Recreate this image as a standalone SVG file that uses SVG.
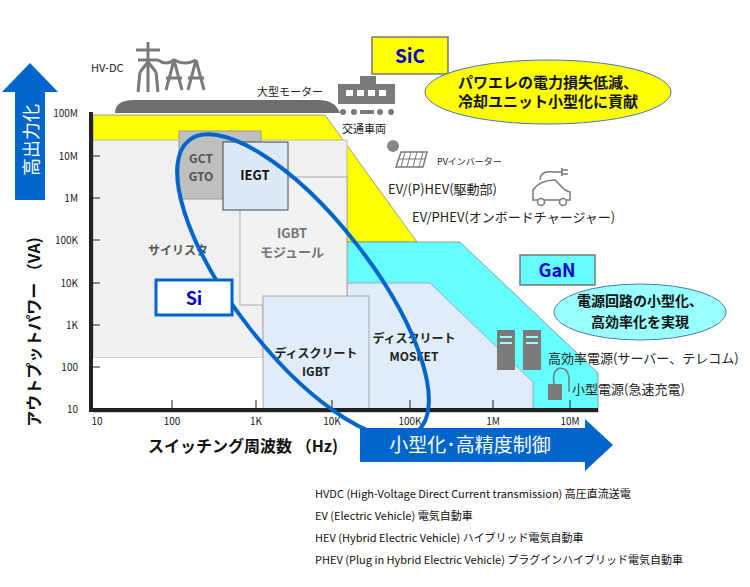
<svg xmlns="http://www.w3.org/2000/svg" width="750" height="587" viewBox="0 0 750 587">
<style>
text{font-family:"Noto Sans CJK JP","Noto Sans",sans-serif;}
.t{font-size:11px;fill:#222}
.tk{font-size:10px;fill:#222;text-anchor:end}
.tx{font-size:10px;fill:#222;text-anchor:middle}
.lg{font-size:11px;fill:#111}
.ic{fill:#7a7a7a}
.b{font-weight:bold}
</style>
<rect width="750" height="587" fill="#fff"/>
<g id="regions">
<path d="M115,113 Q115,100 135,100 L318,100 Q335,100 340,113 Z" fill="#6e6e6e"/>
<path d="M93,115 L325,115 L417,242 L93,242 Z" fill="#ffff00" stroke="#888" stroke-width="0.8"/>
<path d="M345,242 L460,242 L598,373 L598,412 L93,412 L93,242 Z" fill="#66ffff" stroke="#888" stroke-width="0.8"/>
<path d="M263,283 L430,283 L533,382 L533,410 L263,410 Z" fill="#e0ecf7" stroke="#999" stroke-width="0.8"/>
<path d="M93,140 L347,140 L347,305 L263,305 L263,358 L93,358 Z" fill="#f0f0f0" stroke="#aaa" stroke-width="0.8"/>
<rect x="93" y="358" width="170" height="50" fill="#fff"/>
<rect x="240" y="177" width="107" height="128" fill="#f2f2f2" stroke="#999" stroke-width="0.8"/>
<rect x="263" y="296" width="106" height="113" fill="#e0ecf7" stroke="#999" stroke-width="0.8"/>
</g>
<g id="gct"><rect x="179" y="131" width="82" height="68" fill="#bfbfbf" stroke="#999"/>
<text x="201" y="163" class="b" font-size="12" fill="#555" text-anchor="middle">GCT</text>
<text x="201" y="181" class="b" font-size="12" fill="#555" text-anchor="middle">GTO</text></g>
<g id="iegt"><rect x="223" y="142" width="65" height="68" fill="#dde9f5" stroke="#444"/>
<text x="255" y="180" class="b" font-size="13" fill="#111" text-anchor="middle">IEGT</text></g>
<g id="labels-in">
<text x="178" y="255" class="b" font-size="12" fill="#555" text-anchor="middle">サイリスタ</text>
<text x="292" y="238" class="b" font-size="13" fill="#777" text-anchor="middle">IGBT</text>
<text x="292" y="257" class="b" font-size="13" fill="#777" text-anchor="middle">モジュール</text>
<text x="316" y="358" class="b" font-size="12" fill="#222" text-anchor="middle">ディスクリート</text>
<text x="316" y="376" class="b" font-size="12" fill="#222" text-anchor="middle">IGBT</text>
<text x="414" y="343" class="b" font-size="12" fill="#222" text-anchor="middle">ディスクリート</text>
<text x="414" y="361" class="b" font-size="12" fill="#222" text-anchor="middle">MOSFET</text>
</g>
<g id="axes">
<line x1="91" y1="112" x2="91" y2="411" stroke="#222" stroke-width="4"/>
<line x1="89" y1="410" x2="598" y2="410" stroke="#222" stroke-width="4"/>
<g stroke="#222" stroke-width="1">
<line x1="91" y1="156" x2="100" y2="156"/><line x1="91" y1="198" x2="100" y2="198"/><line x1="91" y1="240" x2="100" y2="240"/><line x1="91" y1="283" x2="100" y2="283"/><line x1="91" y1="325" x2="100" y2="325"/><line x1="91" y1="367" x2="100" y2="367"/>
<line x1="172" y1="400" x2="172" y2="410"/><line x1="256" y1="400" x2="256" y2="410"/><line x1="332" y1="400" x2="332" y2="410"/><line x1="410" y1="400" x2="410" y2="410"/><line x1="493" y1="400" x2="493" y2="410"/><line x1="570" y1="400" x2="570" y2="410"/>
</g>
<text x="78" y="117" class="tk">100M</text><text x="78" y="160" class="tk">10M</text><text x="78" y="202" class="tk">1M</text><text x="78" y="244" class="tk">100K</text><text x="78" y="287" class="tk">10K</text><text x="78" y="329" class="tk">1K</text><text x="78" y="371" class="tk">100</text><text x="78" y="413" class="tk">10</text>
<text x="97" y="425" class="tx">10</text><text x="172" y="425" class="tx">100</text><text x="256" y="425" class="tx">1K</text><text x="332" y="425" class="tx">10K</text><text x="410" y="425" class="tx">100K</text><text x="493" y="425" class="tx">1M</text><text x="570" y="425" class="tx">10M</text>
<text transform="translate(40,332) rotate(-90)" font-size="16" class="b" fill="#111" text-anchor="middle">アウトプットパワー （VA)</text>
<text x="243" y="452" font-size="16" class="b" fill="#111" text-anchor="middle">スイッチング周波数 （Hz)</text>
</g>
<g id="si-ellipse"><ellipse cx="303" cy="286" rx="185" ry="68" transform="rotate(52 303 286)" fill="none" stroke="#0066cc" stroke-width="4"/></g>
<g id="arrows">
<path d="M15,200 L15,92 L2,92 L30,63 L58,92 L45,92 L45,200 Z" fill="#0066cc"/>
<text transform="translate(38,140) rotate(-90)" font-size="18" fill="#fff" text-anchor="middle">高出力化</text>
<path d="M360,428 L585,428 L585,419 L613,445 L585,471 L585,462 L360,462 Z" fill="#0066cc"/>
<text x="470" y="452" font-size="19" fill="#fff" text-anchor="middle">小型化･高精度制御</text>
</g>
<g id="si"><rect x="156" y="280" width="76" height="35" fill="#fff" stroke="#0066cc" stroke-width="3"/>
<text x="194" y="305" font-size="18" class="b" fill="#0000cc" text-anchor="middle">Si</text></g>
<g id="sic"><rect x="372" y="37" width="76" height="37" fill="#ffff00" stroke="#777" stroke-width="1.5"/>
<text x="410" y="63" font-size="19" class="b" fill="#0000cc" text-anchor="middle">SiC</text></g>
<g id="gan"><rect x="520" y="255" width="75" height="30" fill="#66ffff" stroke="#777" stroke-width="1.5"/>
<text x="557" y="277" font-size="18" class="b" fill="#0000cc" text-anchor="middle">GaN</text></g>
<g id="sic-note"><ellipse cx="548" cy="92" rx="123" ry="32" fill="#ffff00" stroke="#4a7ab0"/>
<text x="548" y="88" font-size="15" class="b" fill="#111" text-anchor="middle">パワエレの電力損失低減、</text>
<text x="548" y="107" font-size="15" class="b" fill="#111" text-anchor="middle">冷却ユニット小型化に貢献</text></g>
<g id="gan-note"><ellipse cx="640" cy="312" rx="86" ry="28" fill="#99ffff" stroke="#4a7ab0"/>
<text x="640" y="306" font-size="14" class="b" fill="#111" text-anchor="middle">電源回路の小型化、</text>
<text x="640" y="327" font-size="14" class="b" fill="#111" text-anchor="middle">高効率化を実現</text></g>
<g id="icons" class="ic">
<g stroke="#7a7a7a" stroke-width="3" fill="none">
<path d="M148,42 L148,92 M136,50 L160,50 M138,60 L158,60 M140,72 L138,92 M156,72 L158,92 M148,62 L140,72 M148,62 L156,72"/>
<path d="M174,60 L166,90 M174,60 L182,90 M166,78 L182,78 M196,60 L188,90 M196,60 L204,90 M188,78 L204,78 M158,60 Q166,66 174,60 Q185,66 196,60"/>
</g>
<path d="M338,84 L395,84 L395,104 L338,104 Z"/>
<rect x="360" y="76" width="16" height="8"/>
<g fill="#fff"><rect x="346" y="90" width="7" height="6"/><rect x="357" y="90" width="7" height="6"/><rect x="368" y="90" width="7" height="6"/><rect x="379" y="90" width="7" height="6"/></g>
<circle cx="343" cy="112" r="3"/><circle cx="354" cy="112" r="3"/><rect x="360" y="110" width="14" height="4"/><circle cx="380" cy="112" r="3"/><circle cx="391" cy="112" r="3"/>
<circle cx="393" cy="146" r="6" fill="#888"/>
<path d="M401,152 L427,152 L423,167 L396,167 Z" fill="#fff" stroke="#7a7a7a" stroke-width="1.5"/>
<path d="M405,152 L401,167 M411,152 L407,167 M417,152 L413,167 M423,152 L419,167 M399,159 L425,159" stroke="#7a7a7a" stroke-width="1" fill="none"/>
<g fill="none" stroke="#7a7a7a" stroke-width="1.5">
<path d="M533,200 L533,190 Q540,180 555,180 L565,190 L570,192 L570,200 Z"/>
<circle cx="541" cy="202" r="3.5" fill="#fff"/><circle cx="563" cy="202" r="3.5" fill="#fff"/>
<path d="M540,180 Q540,170 555,172 L562,172 M562,168 L562,176 M562,170 L568,170 M562,174 L568,174"/>
</g>
<rect x="497" y="330" width="18" height="40"/><rect x="523" y="330" width="18" height="40"/>
<g fill="#9ff"><rect x="500" y="336" width="12" height="2"/><rect x="500" y="342" width="12" height="2"/><rect x="526" y="336" width="12" height="2"/><rect x="526" y="342" width="12" height="2"/></g>
<path d="M548,384 L562,384 L562,400 L548,400 Z"/>
<path d="M554,384 Q552,370 560,368 Q568,368 569,378 L569,392" fill="none" stroke="#7a7a7a" stroke-width="1.5"/>
</g>
<g id="annotations">
<text x="91" y="72" class="t">HV-DC</text>
<text x="257" y="96" class="t">大型モーター</text>
<text x="342" y="133" class="t">交通車両</text>
<text x="437" y="165" font-size="9" fill="#222">PVインバーター</text>
<text x="388" y="194" font-size="13" fill="#222">EV/(P)HEV(駆動部)</text>
<text x="412" y="222" font-size="13" fill="#222">EV/PHEV(オンボードチャージャー)</text>
<text x="548" y="363" font-size="13" fill="#222">高効率電源(サーバー、テレコム)</text>
<text x="572" y="394" font-size="13" fill="#222">小型電源(急速充電)</text>
</g>
<g id="legend">
<text x="315" y="498" class="lg">HVDC (High-Voltage Direct Current transmission) 高圧直流送電</text>
<text x="315" y="520" class="lg">EV (Electric Vehicle) 電気自動車</text>
<text x="315" y="542" class="lg">HEV (Hybrid Electric Vehicle) ハイブリッド電気自動車</text>
<text x="315" y="564" class="lg">PHEV (Plug in Hybrid Electric Vehicle) プラグインハイブリッド電気自動車</text>
</g>
</svg>
